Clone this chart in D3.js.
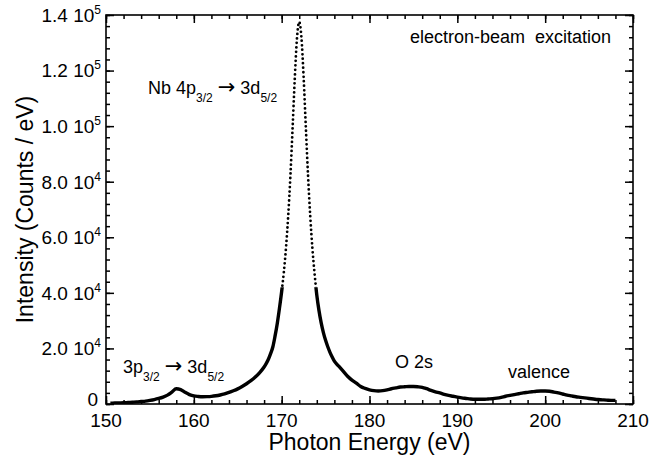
<!DOCTYPE html>
<html>
<head>
<meta charset="utf-8">
<script src="https://cdn.jsdelivr.net/npm/d3@7"></script>
<style>
body { margin: 0; background: #fff; }
svg { font-family: "Liberation Sans", Arial, Helvetica, sans-serif; }
</style>
</head>
<body>
<svg width="668" height="457"></svg>
<script>
// spectrum in three pieces (finer step across the main peak)
let lowEnergy = [150.5, 151, 151.5, 152, 152.5, 153, 153.5, 154, 154.5, 155, 155.5, 156, 156.5, 157, 157.5,
    158, 158.5, 159, 159.5, 160, 160.5, 161, 161.5, 162, 162.5, 163, 163.5, 164, 164.5, 165, 165.5, 166,
    166.5, 167, 167.5]
let lowCounts = [300, 350, 400, 450, 550, 650, 750, 900, 1050, 1300, 1600, 2000, 2500, 3200, 4300,
    5500, 5200, 4200, 3400, 2900, 2700, 2600, 2650, 2750, 2950, 3250, 3650, 4150, 4750, 5450, 6300, 7300,
    8400, 9700, 11300]

let peakEnergy = [168, 168.25, 168.5, 168.75, 169, 169.25, 169.5, 169.75, 170, 170.25, 170.5, 170.75,
    171, 171.25, 171.5, 171.75, 172, 172.25, 172.5, 172.75, 173, 173.25, 173.5, 173.75, 174, 174.25,
    174.5, 174.75, 175, 175.25, 175.5, 175.75, 176]
let peakCounts = [13300, 14600, 16200, 18200, 20600, 24500, 29000, 34500, 40500, 47500, 56500, 68000,
    82400, 99700, 117600, 131900, 137500, 131900, 117600, 99700, 82400, 67800, 56000, 46800, 39200, 33600,
    29200, 25700, 22900, 20600, 18600, 16900, 15400]

let highEnergy = [176.5, 177, 177.5, 178, 178.5, 179, 179.5, 180, 180.5, 181, 181.5, 182, 182.5, 183,
    183.5, 184, 184.5, 185, 185.5, 186, 186.5, 187, 187.5, 188, 188.5, 189, 189.5, 190, 190.5, 191, 191.5,
    192, 192.5, 193, 193.5, 194, 194.5, 195, 195.5, 196, 196.5, 197, 197.5, 198, 198.5, 199, 199.5, 200,
    200.5, 201, 201.5, 202, 202.5, 203, 203.5, 204, 204.5, 205, 205.5, 206, 206.5, 207, 207.5, 208]
let highCounts = [13600, 11800, 10000, 8600, 7500, 6300, 5600, 5100, 4800, 4700, 4800, 5100, 5500, 5800,
    6100, 6200, 6300, 6300, 6200, 6000, 5500, 4900, 4400, 4000, 3500, 3100, 2800, 2500, 2200, 2000, 1800,
    1700, 1700, 1700, 1800, 1900, 2100, 2400, 2800, 3100, 3400, 3700, 4000, 4200, 4400, 4600, 4700, 4700,
    4600, 4300, 4000, 3600, 3200, 2900, 2600, 2400, 2200, 2000, 1800, 1600, 1500, 1400, 1300, 1300]

let xTicks = [150, 160, 170, 180, 190, 200, 210]
let yTicks = [0, 20000, 40000, 60000, 80000, 100000, 120000, 140000]
let yTickText = ['0', '2.0', '4.0', '6.0', '8.0', '1.0', '1.2', '1.4']
let yTickExp = ['', '4', '4', '4', '4', '5', '5', '5']

let data = d3.zip(lowEnergy.concat(peakEnergy, highEnergy), lowCounts.concat(peakCounts, highCounts))
    .map(d => ({ e: d[0], c: d[1] }))

let x0 = 106, x1 = 633, y0 = 15, y1 = 404

let svg = d3.select('svg')
let x = d3.scaleLinear().domain([150, 210]).range([x0, x1])
let y = d3.scaleLinear().domain([0, 140000]).range([y1, y0])

// inward ticks on all four sides
function ticks(axis, values, size, tx, ty) {
    svg.append('g')
        .attr('transform', 'translate(' + tx + ',' + ty + ')')
        .call(axis.tickValues(values).tickSize(-size).tickSizeOuter(0).tickFormat(''))
        .call(g => g.select('.domain').remove())
        .call(g => g.selectAll('line').attr('stroke', '#000').attr('stroke-width', 1.5))
}
let xMinor = d3.range(150, 211, 2)
let yMinor = d3.range(0, 140001, 4000)
ticks(d3.axisBottom(x), xMinor, 4, 0, y1)
ticks(d3.axisBottom(x), xTicks, 8, 0, y1)
ticks(d3.axisTop(x), xMinor, 4, 0, y0)
ticks(d3.axisTop(x), xTicks, 8, 0, y0)
ticks(d3.axisLeft(y), yMinor, 4, x0, 0)
ticks(d3.axisLeft(y), yTicks, 8, x0, 0)
ticks(d3.axisRight(y), yMinor, 4, x1, 0)
ticks(d3.axisRight(y), yTicks, 8, x1, 0)

svg.append('rect')
    .attr('x', x0).attr('y', y0)
    .attr('width', x1 - x0).attr('height', y1 - y0)
    .attr('fill', 'none').attr('stroke', '#000').attr('stroke-width', 1.6)

svg.selectAll('text.xl')
    .data(xTicks)
    .enter()
    .append('text')
    .attr('class', 'xl')
    .attr('x', d => x(d))
    .attr('y', y1 + 23)
    .attr('text-anchor', 'middle')
    .attr('font-size', 19)
    .text(d => d)

let yl = svg.selectAll('text.yl')
    .data(yTicks)
    .enter()
    .append('text')
    .attr('class', 'yl')
    .attr('x', (d, i) => yTickExp[i] ? x0 - 5 : x0 - 8)
    .attr('y', d => y(d))
    .attr('dy', (d, i) => yTickExp[i] ? '0.36em' : '0.08em')
    .attr('text-anchor', 'end')
    .attr('font-size', 19)
yl.append('tspan').text((d, i) => yTickText[i] + (yTickExp[i] ? ' 10' : ''))
yl.append('tspan')
    .attr('dy', -8)
    .attr('font-size', 12)
    .text((d, i) => yTickExp[i])

svg.append('text')
    .attr('x', (x0 + x1) / 2)
    .attr('y', 450)
    .attr('text-anchor', 'middle')
    .attr('font-size', 23)
    .text('Photon Energy (eV)')
svg.append('text')
    .attr('transform', 'translate(33,' + (y0 + y1) / 2 + ') rotate(-90)')
    .attr('text-anchor', 'middle')
    .attr('font-size', 23)
    .text('Intensity (Counts / eV)')

// spectrum: solid where the points crowd together, dotted up the steep peak
let line = d3.line().x(d => x(d.e)).y(d => y(d.c)).curve(d3.curveMonotoneX)
let cut = y(42000)
let defs = svg.append('defs')
defs.append('clipPath').attr('id', 'lower')
    .append('rect').attr('x', x0).attr('y', cut).attr('width', x1 - x0).attr('height', y1 - cut)
defs.append('clipPath').attr('id', 'upper')
    .append('rect').attr('x', x0).attr('y', y0).attr('width', x1 - x0).attr('height', cut - y0)

svg.append('path')
    .datum(data)
    .attr('d', line)
    .attr('fill', 'none')
    .attr('stroke', '#000')
    .attr('stroke-width', 3.4)
    .attr('stroke-linejoin', 'round')
    .attr('clip-path', 'url(#lower)')
svg.append('path')
    .datum(data)
    .attr('d', line)
    .attr('fill', 'none')
    .attr('stroke', '#000')
    .attr('stroke-width', 2.8)
    .attr('stroke-linecap', 'round')
    .attr('stroke-dasharray', '0 4.5')
    .attr('clip-path', 'url(#upper)')

// annotations: 'sub' pieces are subscripts, 'arrow' is drawn a bit larger
function note(px, py, parts) {
    let t = svg.append('text').attr('x', px).attr('y', py).attr('font-size', 18)
    let shift = 0
    parts.forEach(p => {
        let sub = p[1] === 'sub'
        let s = t.append('tspan')
            .attr('dy', (sub ? 8 : 0) - shift)
            .attr('font-size', sub ? 12 : 18)
            .text(p[0])
        if (p[1] === 'arrow') {
            s.attr('font-family', 'DejaVu Sans').attr('font-size', 21)
        }
        shift = sub ? 8 : 0
    })
}
note(410, 43, [['electron-beam\u00a0 excitation']])
note(148, 94, [['Nb 4p'], ['3/2', 'sub'], [' '], ['\u2192', 'arrow'], [' 3d'], ['5/2', 'sub']])
note(123, 373, [['3p'], ['3/2', 'sub'], [' '], ['\u2192', 'arrow'], [' 3d'], ['5/2', 'sub']])
note(395, 368, [['O 2s']])
note(508, 378, [['valence']])
</script>
</body>
</html>
